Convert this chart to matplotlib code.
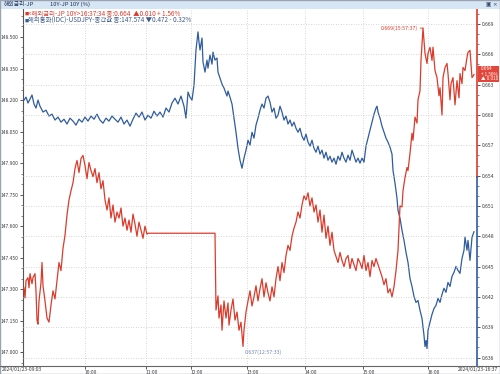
import matplotlib
matplotlib.use("Agg")
import matplotlib.pyplot as plt
from matplotlib.patches import Rectangle
from matplotlib.lines import Line2D
from matplotlib.ticker import FixedLocator, MultipleLocator

plt.rcParams['font.family'] = ['Noto Sans CJK KR', 'DejaVu Sans']

# ---------------- data ----------------
# x = bar index along the (gap-compressed) intraday time axis
usd_idx = [1, 3, 5, 7, 9, 11, 13, 15, 17, 20,
           23, 26, 29, 32, 35, 38, 41, 44, 47, 50,
           53, 56, 59, 62, 65, 68, 71, 74, 77, 80,
           83, 86, 89, 92, 95, 98, 101, 104, 107, 110,
           113, 116, 119, 122, 125, 128, 131, 134, 137, 140,
           143, 146, 149, 152, 155, 158, 161, 163, 165, 167,
           169, 171, 173, 175, 176, 177, 179, 180, 182, 184,
           185, 187, 189, 190, 192, 194, 195, 197, 199, 201,
           204, 205, 207, 209, 211, 213, 215, 217, 219, 221,
           223, 225, 227, 229, 231, 233, 235, 237, 239, 241,
           243, 245, 247, 249, 251, 253, 255, 257, 259, 261,
           263, 265, 267, 269, 271, 273, 275, 277, 279, 281,
           283, 285, 287, 289, 291, 293, 295, 297, 299, 301,
           303, 305, 307, 309, 311, 313, 315, 317, 319, 321,
           323, 325, 327, 329, 331, 333, 335, 337, 339, 341,
           343, 345, 347, 349, 351, 353, 354, 355, 357, 359,
           361, 363, 365, 367, 369, 370, 372, 374, 375, 377,
           379, 381, 383, 385, 387, 389, 391, 393, 395, 397,
           399, 401, 402, 403, 404, 405, 407, 409, 411, 413,
           415, 417, 419, 421, 423, 425, 427, 429, 431, 433,
           435, 437, 439, 441, 442, 444, 445, 447, 449, 451]
usd_val = [148.200, 148.214, 148.186, 148.205, 148.224, 148.181, 148.162, 148.200, 148.171, 148.143,
           148.152, 148.124, 148.133, 148.105, 148.119, 148.095, 148.109, 148.086, 148.114, 148.100,
           148.081, 148.109, 148.095, 148.119, 148.100, 148.124, 148.109, 148.133, 148.105, 148.090,
           148.114, 148.100, 148.124, 148.109, 148.095, 148.119, 148.086, 148.105, 148.076, 148.109,
           148.138, 148.119, 148.143, 148.105, 148.128, 148.114, 148.147, 148.124, 148.143, 148.119,
           148.162, 148.143, 148.186, 148.209, 148.181, 148.219, 148.171, 148.114, 148.238, 148.214,
           148.200, 148.271, 148.438, 148.524, 148.476, 148.438, 148.495, 148.381, 148.333, 148.390,
           148.352, 148.414, 148.371, 148.428, 148.390, 148.400, 148.333, 148.305, 148.276, 148.257,
           148.219, 148.243, 148.214, 148.181, 148.114, 148.047, 147.971, 147.914, 147.876, 147.924,
           147.962, 148.009, 147.986, 148.047, 148.019, 148.081, 148.114, 148.152, 148.181, 148.162,
           148.209, 148.219, 148.190, 148.143, 148.162, 148.114, 148.128, 148.171, 148.143, 148.105,
           148.124, 148.086, 148.105, 148.076, 148.095, 148.066, 148.047, 148.066, 148.028, 148.009,
           148.038, 148.000, 147.981, 148.009, 147.971, 147.952, 147.981, 147.943, 147.962, 147.924,
           147.952, 147.914, 147.933, 147.905, 147.924, 147.895, 147.933, 147.914, 147.952, 147.924,
           147.905, 147.938, 147.914, 147.962, 147.933, 147.905, 147.924, 147.900, 147.924, 147.905,
           147.981, 148.019, 148.057, 148.095, 148.133, 148.162, 148.171, 148.143, 148.114, 148.076,
           148.047, 148.019, 148.000, 147.976, 147.943, 147.866, 147.805, 147.733, 147.676, 147.638,
           147.581, 147.533, 147.476, 147.428, 147.352, 147.314, 147.266, 147.238, 147.247, 147.200,
           147.162, 147.081, 147.028, 147.057, 147.019, 147.105, 147.143, 147.181, 147.209, 147.224,
           147.257, 147.238, 147.276, 147.305, 147.286, 147.333, 147.314, 147.362, 147.381, 147.409,
           147.390, 147.376, 147.447, 147.486, 147.548, 147.486, 147.533, 147.438, 147.548, 147.574]

jp_idx = [1, 2, 3, 5, 6, 7, 9, 10, 12, 13,
          14, 15, 16, 18, 19, 20, 22, 24, 26, 28,
          30, 32, 34, 36, 38, 40, 42, 44, 46, 48,
          50, 52, 54, 56, 58, 60, 62, 64, 66, 68,
          70, 72, 74, 76, 78, 80, 82, 84, 86, 88,
          90, 92, 94, 96, 98, 100, 102, 104, 106, 108,
          110, 112, 114, 116, 118, 120, 122, 124, 125, 192,
          193, 195, 196, 198, 199, 201, 203, 205, 206, 208,
          210, 212, 214, 216, 218, 220, 221, 223, 225, 227,
          229, 231, 233, 235, 237, 239, 241, 243, 245, 247,
          249, 251, 253, 255, 257, 259, 261, 263, 265, 267,
          269, 271, 273, 275, 277, 279, 281, 283, 285, 287,
          289, 291, 293, 295, 297, 299, 301, 303, 305, 307,
          309, 311, 313, 315, 317, 319, 321, 323, 325, 327,
          329, 331, 333, 335, 337, 339, 341, 343, 345, 347,
          349, 351, 353, 355, 357, 359, 361, 363, 365, 367,
          369, 371, 373, 375, 377, 379, 380, 382, 384, 385,
          387, 389, 390, 392, 394, 395, 397, 398, 400, 402,
          404, 405, 407, 409, 410, 412, 414, 416, 417, 419,
          420, 422, 424, 425, 427, 428, 430, 432, 434, 436,
          437, 439, 440, 442, 444, 445, 447, 448, 449, 451]
jp_val = [0.6429, 0.6419, 0.6436, 0.6439, 0.6429, 0.6443, 0.6433, 0.6439, 0.6443, 0.6426,
          0.6397, 0.6393, 0.6416, 0.6434, 0.6454, 0.6431, 0.6416, 0.6399, 0.6395, 0.6412,
          0.6426, 0.6418, 0.6436, 0.6454, 0.6446, 0.6468, 0.6481, 0.6501, 0.6516, 0.6525,
          0.6533, 0.6547, 0.6555, 0.6543, 0.6557, 0.6560, 0.6550, 0.6537, 0.6553, 0.6545,
          0.6539, 0.6547, 0.6533, 0.6543, 0.6527, 0.6535, 0.6516, 0.6506, 0.6518, 0.6498,
          0.6511, 0.6494, 0.6504, 0.6498, 0.6508, 0.6490, 0.6498, 0.6486, 0.6496, 0.6484,
          0.6502, 0.6492, 0.6480, 0.6494, 0.6486, 0.6478, 0.6490, 0.6482, 0.6483, 0.6483,
          0.6407, 0.6421, 0.6399, 0.6412, 0.6387, 0.6416, 0.6399, 0.6414, 0.6392, 0.6407,
          0.6418, 0.6397, 0.6405, 0.6387, 0.6395, 0.6371, 0.6387, 0.6405, 0.6416, 0.6426,
          0.6411, 0.6420, 0.6431, 0.6416, 0.6428, 0.6438, 0.6420, 0.6434, 0.6424, 0.6416,
          0.6430, 0.6420, 0.6438, 0.6450, 0.6436, 0.6454, 0.6444, 0.6461, 0.6471, 0.6466,
          0.6480, 0.6488, 0.6494, 0.6504, 0.6498, 0.6511, 0.6520, 0.6516, 0.6523, 0.6510,
          0.6518, 0.6504, 0.6511, 0.6494, 0.6506, 0.6484, 0.6501, 0.6478, 0.6490, 0.6471,
          0.6484, 0.6466, 0.6460, 0.6454, 0.6464, 0.6456, 0.6450, 0.6458, 0.6461, 0.6448,
          0.6458, 0.6452, 0.6446, 0.6458, 0.6454, 0.6448, 0.6461, 0.6446, 0.6454, 0.6440,
          0.6456, 0.6450, 0.6458, 0.6452, 0.6446, 0.6440, 0.6432, 0.6438, 0.6424, 0.6428,
          0.6420, 0.6430, 0.6446, 0.6466, 0.6510, 0.6509, 0.6525, 0.6538, 0.6548, 0.6545,
          0.6562, 0.6582, 0.6575, 0.6598, 0.6592, 0.6615, 0.6624, 0.6654, 0.6686, 0.6661,
          0.6651, 0.6661, 0.6667, 0.6654, 0.6667, 0.6644, 0.6637, 0.6619, 0.6627, 0.6600,
          0.6637, 0.6647, 0.6651, 0.6641, 0.6615, 0.6631, 0.6637, 0.6610, 0.6634, 0.6617,
          0.6641, 0.6631, 0.6647, 0.6644, 0.6657, 0.6662, 0.6664, 0.6651, 0.6637, 0.6640]

time_tick_idx = [62, 123, 168, 224, 282, 340, 405]
time_tick_labels = ["10:00", "11:00", "12:00", "13:00", "14:00", "15:00", "16:00"]
start_label = "2024/01/23-09:03"
end_label = "2024/01/23-16:37"

usd_ticks = [147.000, 147.150, 147.300, 147.450, 147.600, 147.750,
             147.900, 148.050, 148.200, 148.350, 148.500]
jp_ticks = [0.636, 0.639, 0.642, 0.645, 0.648, 0.651,
            0.654, 0.657, 0.660, 0.663, 0.666, 0.669]

title_left = "해외금리-JP"
title_right = "10Y-JP 10Y (%)"
legend_jp = "<해외금리-JP 10Y>16:37:34 종:0.664  ▲0.010 + 1.56%"
legend_usd = "해외통화(IDC)-USDJPY-종간값 종:147.574 ▼0.472 - 0.32%"
jp_last = ["0.664", "+ 1.56%", "▲ 0.010"]
jp_max_label = "0.669(15:57:37)"
jp_min_label = "0.637(12:57:33)"

RED = "#dc3b2c"
BLUE = "#2f5c9e"
GRID = "#c8c8c8"
TXT = "#3a3a3a"

W, H = 500, 374
fig = plt.figure(figsize=(5.0, 3.74), dpi=100)
fig.patch.set_facecolor("white")

def fx(px):
    return px / W

def fy(py):
    return 1 - py / H

L, R, T, B = 23, 477, 9, 365.5
ax = fig.add_axes([fx(L), fy(B), fx(R - L), (B - T) / H])
ax2 = ax.twinx()

ax.set_xlim(0, 454)
ax.set_ylim(146.938, 148.633)
ax2.set_ylim(0.63521, 0.67049)

# grid
for t in time_tick_idx:
    ax.axvline(t, color=GRID, lw=0.6, ls=(0, (1, 2)), zorder=0)
for t in jp_ticks:
    ax2.axhline(t, color=GRID, lw=0.6, ls=(0, (1, 2)), zorder=0)

ax.plot(usd_idx, usd_val, color=BLUE, lw=0.9, zorder=3)
ax2.plot(jp_idx, jp_val, color=RED, lw=0.9, zorder=3)

# axes styling
for a in (ax, ax2):
    for s in ("top", "bottom", "right", "left"):
        a.spines[s].set_visible(False)
ax.spines["left"].set_visible(True)
ax.spines["left"].set_color("#555555")
ax.spines["left"].set_linewidth(0.8)

ax.yaxis.set_major_locator(FixedLocator(usd_ticks))
ax.yaxis.set_minor_locator(MultipleLocator(0.05))
ax.set_yticklabels([f"{v:.3f}" for v in usd_ticks])
ax.tick_params(axis="y", which="major", labelsize=3.5, colors=TXT, length=2.5, width=0.6, pad=0.8)
ax.tick_params(axis="y", which="minor", length=1.5, width=0.5, colors="#555555")

ax2.yaxis.set_major_locator(FixedLocator(jp_ticks))
ax2.yaxis.set_minor_locator(MultipleLocator(0.001))
ax2.set_yticklabels([f"{v:.3f}" for v in jp_ticks])
ax2.tick_params(axis="y", which="major", labelsize=3.6, colors=TXT, length=2.5, width=0.6, pad=1)
ax2.tick_params(axis="y", which="minor", length=1.5, width=0.5, colors="#555555")

ax.set_xticks(time_tick_idx)
ax.set_xticklabels(time_tick_labels)
ax.tick_params(axis="x", labelsize=3.6, colors=TXT, length=2.5, width=0.6, pad=0.5)
for lab in ax.get_xticklabels():
    lab.set_ha("left")

# right axis line: red upper part, blue lower part
split = 0.53
ax2.add_line(Line2D([1, 1], [split, 1], transform=ax2.transAxes, color=RED, lw=1.2, clip_on=False))
ax2.add_line(Line2D([1, 1], [0, split], transform=ax2.transAxes, color=BLUE, lw=1.2, clip_on=False))

# bottom line across whole window
fig.add_artist(Line2D([0, 1], [fy(B), fy(B)], color="#666666", lw=0.8))
fig.text(fx(1.5), fy(370), start_label, fontsize=3.6, color=TXT, ha="left", va="center")
fig.text(fx(498.5), fy(370), end_label, fontsize=3.6, color=TXT, ha="right", va="center")

# header bar
fig.add_artist(Rectangle((0, fy(8.5)), 1, 8.5 / H, transform=fig.transFigure,
                         facecolor="#d7e6f4", edgecolor="none"))
fig.text(fx(4), fy(4.2), title_left, fontsize=4.2, color="#1c2c55", ha="left", va="center")
fig.text(fx(50), fy(4.2), title_right, fontsize=4.2, color="#1c2c55", ha="left", va="center")
fig.text(fx(498), fy(4.2), "▣ ×", fontsize=4, color="#34466a", ha="right", va="center",
         family=["DejaVu Sans"])

# window border
fig.add_artist(Rectangle((0, 0), 1, 1, transform=fig.transFigure, facecolor="none",
                         edgecolor="#9aa4b0", lw=1.0))

# legend lines
fig.text(fx(25), fy(14), "■", fontsize=3, color=RED, ha="left", va="center")
fig.text(fx(28), fy(14), legend_jp, fontsize=4.6, color=RED, ha="left", va="center")
fig.text(fx(25), fy(20.5), "■", fontsize=3, color=BLUE, ha="left", va="center")
fig.text(fx(28), fy(20.5), legend_usd, fontsize=4.6, color="#3d5a8a", ha="left", va="center")

# last value box
fig.add_artist(Rectangle((fx(478), fy(82)), fx(21), 16 / H, transform=fig.transFigure,
                         facecolor="#e2463a", edgecolor="none"))
for i, s in enumerate(jp_last):
    fig.text(fx(481), fy(69 + i * 5), s, fontsize=3.3, color="white", ha="left", va="center")

# max / min annotations
imax = jp_val.index(max(jp_val))
ax2.annotate(jp_max_label, xy=(jp_idx[imax], jp_val[imax]), xytext=(-4, 0),
             textcoords="offset points", fontsize=3.8, color=RED, ha="right", va="center",
             arrowprops=dict(arrowstyle="-", color=RED, lw=0.6, shrinkA=0, shrinkB=0))
imin = jp_val.index(min(jp_val))
ax2.annotate(jp_min_label, xy=(jp_idx[imin], jp_val[imin]), xytext=(1, -4),
             textcoords="offset points", fontsize=3.8, color="#6f87b3", ha="left", va="center",
             arrowprops=dict(arrowstyle="-", color="#6f87b3", lw=0.6, shrinkA=0, shrinkB=0,
                             connectionstyle="angle,angleA=0,angleB=90,rad=0"))

fig.savefig("out.png", dpi=100)
